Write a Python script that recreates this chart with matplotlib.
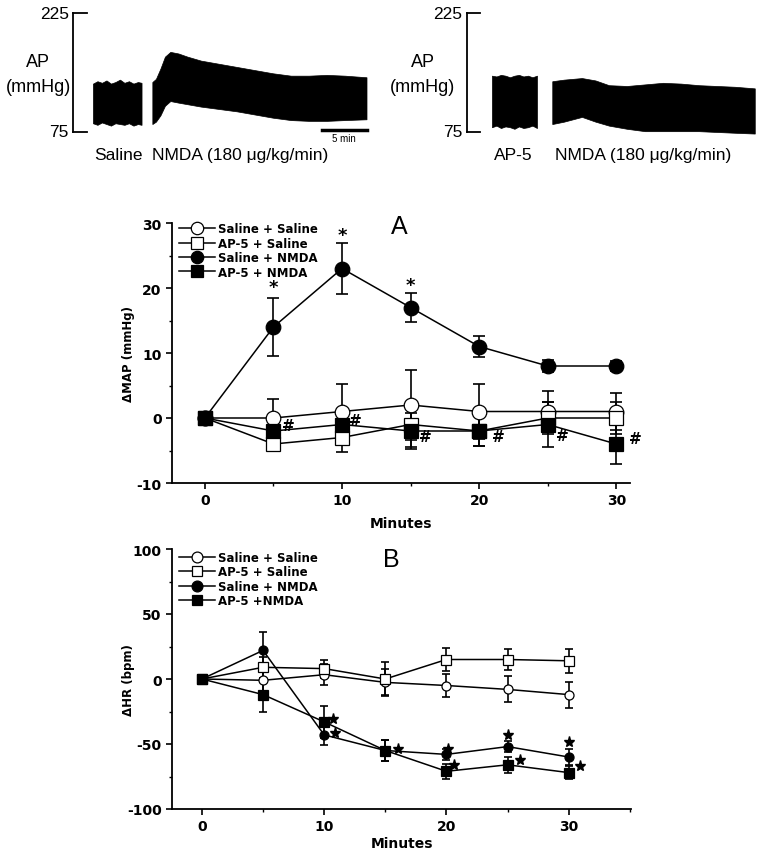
import numpy as np
import matplotlib
matplotlib.use("Agg")
import matplotlib.pyplot as plt
from matplotlib.ticker import MultipleLocator

plt.rcParams['font.family'] = ['DejaVu Sans']
plt.rcParams['axes.unicode_minus'] = False
TRACE_FONT = ['Liberation Sans', 'DejaVu Sans']

# ---- top traces: arterial pressure envelopes (mmHg) vs time (min) ----
sal_t = [0, 0.5, 1, 1.5, 2, 2.5, 3, 3.5, 4, 4.5, 5, 5.4]
sal_hi = [136, 139, 137, 140, 136, 138, 141, 137, 139, 136, 138, 137]
sal_lo = [86, 84, 87, 85, 83, 86, 85, 84, 86, 83, 85, 84]

nmda1_t = [6.6, 7.0, 7.5, 8.0, 8.6, 9.5, 10.5, 12, 14, 16, 18, 20, 22, 24, 26, 28, 30.4]
nmda1_hi = [138, 142, 155, 170, 176, 174, 170, 165, 161, 157, 153, 149, 146, 146, 147, 146, 144]
nmda1_lo = [85, 88, 96, 108, 114, 112, 110, 107, 104, 101, 97, 93, 90, 89, 89, 90, 91]

ap5_t = [0, 0.5, 1, 1.5, 2, 2.5, 3, 3.5, 4, 4.5, 5]
ap5_hi = [146, 145, 147, 146, 144, 146, 147, 145, 146, 144, 146]
ap5_lo = [81, 83, 80, 82, 81, 79, 82, 80, 81, 83, 80]

nmda2_t = [6.7, 8, 10, 11.5, 13, 15, 17, 19, 21, 23, 25, 27, 29.2]
nmda2_hi = [139, 141, 143, 140, 134, 133, 135, 137, 136, 134, 133, 132, 130]
nmda2_lo = [85, 88, 94, 88, 83, 79, 76, 76, 76, 76, 75, 74, 73]

# ---- panel data ----
minutes = [0, 5, 10, 15, 20, 25, 30]
labels_a = ["Saline + Saline", "AP-5 + Saline", "Saline + NMDA", "AP-5 + NMDA"]
labels_b = ["Saline + Saline", "AP-5 + Saline", "Saline + NMDA", "AP-5 +NMDA"]

map_sal_sal = [0, 0, 1, 2, 1, 1, 1]
map_sal_sal_err = [0, 3, 4.2, 5.4, 4.2, 3.1, 2.9]
map_ap5_sal = [0, -4, -3, -1, -2, 0, 0]
map_ap5_sal_err = [0, 1, 2.3, 3.5, 2.3, 2.5, 2.5]
map_sal_nmda = [0, 14, 23, 17, 11, 8, 8]
map_sal_nmda_err = [0, 4.4, 3.9, 2.2, 1.6, 0.9, 0.8]
map_ap5_nmda = [0, -2, -1, -2, -2, -1, -4]
map_ap5_nmda_err = [0, 0.9, 1.5, 2.7, 2.3, 3.4, 3.0]

map_star_x = [5, 10, 15]
map_star_y = [20.2, 28.1, 20.5]
map_hash_x = [6.1, 10.95, 16.1, 21.4, 26.1, 31.4]
map_hash_y = [-1.2, -0.4, -2.8, -2.8, -2.7, -3.1]

hr_sal_sal = [0, -1, 3.3, -2.6, -5, -8, -12]
hr_sal_sal_err = [0, 8, 8, 10, 9, 10, 10]
hr_ap5_sal = [0, 9, 8, 0, 15, 15, 14]
hr_ap5_sal_err = [0, 8, 7, 13, 9, 8, 9]
hr_sal_nmda = [0, 22, -43, -55, -58, -52, -60]
hr_sal_nmda_err = [0, 14, 8, 8, 4, 4, 6]
hr_ap5_nmda = [0, -12, -33, -55, -71, -66, -72]
hr_ap5_nmda_err = [0, 13, 12, 8, 6, 6, 5]

hr_star_x = [10.7, 10.85, 16, 20.1, 20.6, 25, 26, 30, 30.9]
hr_star_y = [-30.8, -41.5, -54, -53.8, -66, -43, -62, -48.7, -67]

fig = plt.figure(figsize=(7.58, 8.53), dpi=100)
W, H = 758.0, 853.0


def trace_axes(x0, x1, t0, t1):
    ax = fig.add_axes([x0 / W, 1 - 175 / H, (x1 - x0) / W, 175 / H])
    ax.set_xlim(t0, t1)
    ax.set_ylim(22.0, 242.7)
    ax.axis('off')
    return ax


def bp_scale(ax, xb, xt, xl, xap):
    ax.plot([xb, xb], [75, 225], color='black', lw=1.3)
    ax.plot([xb, xt], [225, 225], color='black', lw=1.3)
    ax.plot([xb, xt], [75, 75], color='black', lw=1.3)
    ax.text(xl, 225, "225", ha='right', va='center', fontsize=12.5, family=TRACE_FONT)
    ax.text(xl, 75, "75", ha='right', va='center', fontsize=12.5, family=TRACE_FONT)
    ax.text(xap, 164, "AP", ha='center', va='center', fontsize=13, family=TRACE_FONT)
    ax.text(xap, 132, "(mmHg)", ha='center', va='center', fontsize=13, family=TRACE_FONT)


# left trace
axl = trace_axes(0, 380, -10.33, 31.9)
bp_scale(axl, -2.22, -0.67, -2.7, -6.1)
axl.fill_between(sal_t, sal_lo, sal_hi, color='black', lw=0.5)
axl.fill_between(nmda1_t, nmda1_lo, nmda1_hi, color='black', lw=0.5)
axl.plot([25.4, 30.4], [77, 77], color='black', lw=2.5)
axl.text(27.9, 68, "5 min", ha='center', va='center', fontsize=7, family=TRACE_FONT)
axl.text(2.8, 47, "Saline", ha='center', va='center', fontsize=12.5, family=TRACE_FONT)
axl.text(6.6, 47, "NMDA (180 \u03bcg/kg/min)", ha='left', va='center', fontsize=12.5,
         family=TRACE_FONT)

# right trace
axr = trace_axes(380, 758, -12.44, 29.56)
bp_scale(axr, -2.78, -1.33, -3.3, -7.67)
axr.fill_between(ap5_t, ap5_lo, ap5_hi, color='black', lw=0.5)
axr.fill_between(nmda2_t, nmda2_lo, nmda2_hi, color='black', lw=0.5)
axr.text(2.33, 47, "AP-5", ha='center', va='center', fontsize=12.5, family=TRACE_FONT)
axr.text(7.0, 47, "NMDA (180 \u03bcg/kg/min)", ha='left', va='center', fontsize=12.5,
         family=TRACE_FONT)


def panel(ax, series, labels, ms, cap, leg_y, mscale, xpad):
    styles = [('o', 'white'), ('s', 'white'), ('o', 'black'), ('s', 'black')]
    for (vals, err), (mk, fc), lab in zip(series, styles, labels):
        ax.errorbar(minutes[1:], vals[1:], yerr=err[1:], fmt='none', ecolor='black',
                    elinewidth=1.2, capsize=cap, capthick=1.2, zorder=2)
        ax.plot(minutes, vals, marker=mk, mfc=fc, mec='black', mew=0.9, ms=ms,
                color='black', lw=1.1, label=lab, zorder=3)
    for s in ['top', 'right']:
        ax.spines[s].set_visible(False)
    ax.spines['left'].set_linewidth(1.3)
    ax.spines['bottom'].set_linewidth(1.3)
    ax.tick_params(which='major', direction='out', length=4, width=1.2, labelsize=10)
    ax.tick_params(which='minor', direction='out', length=2.5, width=1)
    ax.set_xlabel("Minutes", fontsize=10, fontweight='bold', labelpad=xpad)
    ax.legend(loc='upper left', bbox_to_anchor=(0.0, leg_y), frameon=False,
              prop={'weight': 'bold', 'size': 8.5}, handlelength=3.0,
              handletextpad=0.3, labelspacing=0.12, borderaxespad=0.2,
              markerscale=mscale)


# panel A
axa = fig.add_axes([172 / W, 1 - 484 / H, 458 / W, 260 / H])
panel(axa, [(map_sal_sal, map_sal_sal_err), (map_ap5_sal, map_ap5_sal_err),
            (map_sal_nmda, map_sal_nmda_err), (map_ap5_nmda, map_ap5_nmda_err)],
      labels_a, 10.5, 4.5, 1.03, 0.85, 6)
axa.set_xlim(-2.4, 31)
axa.set_ylim(-10, 30)
axa.set_xticks([0, 10, 20, 30])
axa.xaxis.set_minor_locator(MultipleLocator(5))
axa.set_yticks([-10, 0, 10, 20, 30])
axa.yaxis.set_minor_locator(MultipleLocator(5))
for t in axa.get_xticklabels() + axa.get_yticklabels():
    t.set_fontweight('bold')
axa.set_ylabel("\u0394MAP (mmHg)", fontsize=8.5, fontweight='bold')
axa.yaxis.set_label_coords(-0.08, 0.5)
for x, y in zip(map_star_x, map_star_y):
    axa.text(x, y, "*", ha='center', va='center', fontsize=13, fontweight='bold')
for x, y in zip(map_hash_x, map_hash_y):
    axa.text(x, y, "#", ha='center', va='center', fontsize=11, fontweight='bold',
             clip_on=False)
axa.text(14.2, 29.6, "A", ha='center', va='center', fontsize=18, family=TRACE_FONT)

# panel B
axb = fig.add_axes([172 / W, 1 - 810 / H, 459 / W, 260 / H])
panel(axb, [(hr_sal_sal, hr_sal_sal_err), (hr_ap5_sal, hr_ap5_sal_err),
            (hr_sal_nmda, hr_sal_nmda_err), (hr_ap5_nmda, hr_ap5_nmda_err)],
      labels_b, 6.5, 3, 1.02, 1.2, 2)
axb.set_xlim(-2.45, 35.1)
axb.set_ylim(-100, 100)
axb.set_xticks([0, 10, 20, 30])
axb.xaxis.set_minor_locator(MultipleLocator(5))
axb.set_yticks([-100, -50, 0, 50, 100])
axb.yaxis.set_minor_locator(MultipleLocator(25))
for t in axb.get_xticklabels() + axb.get_yticklabels():
    t.set_fontweight('bold')
axb.set_ylabel("\u0394HR (bpm)", fontsize=8.5, fontweight='bold')
axb.yaxis.set_label_coords(-0.08, 0.5)
axb.plot(hr_star_x, hr_star_y, linestyle='none', marker='*', ms=8, color='black',
         zorder=4)
axb.text(15.5, 92, "B", ha='center', va='center', fontsize=18, family=TRACE_FONT)

fig.savefig("out.png", dpi=100)
